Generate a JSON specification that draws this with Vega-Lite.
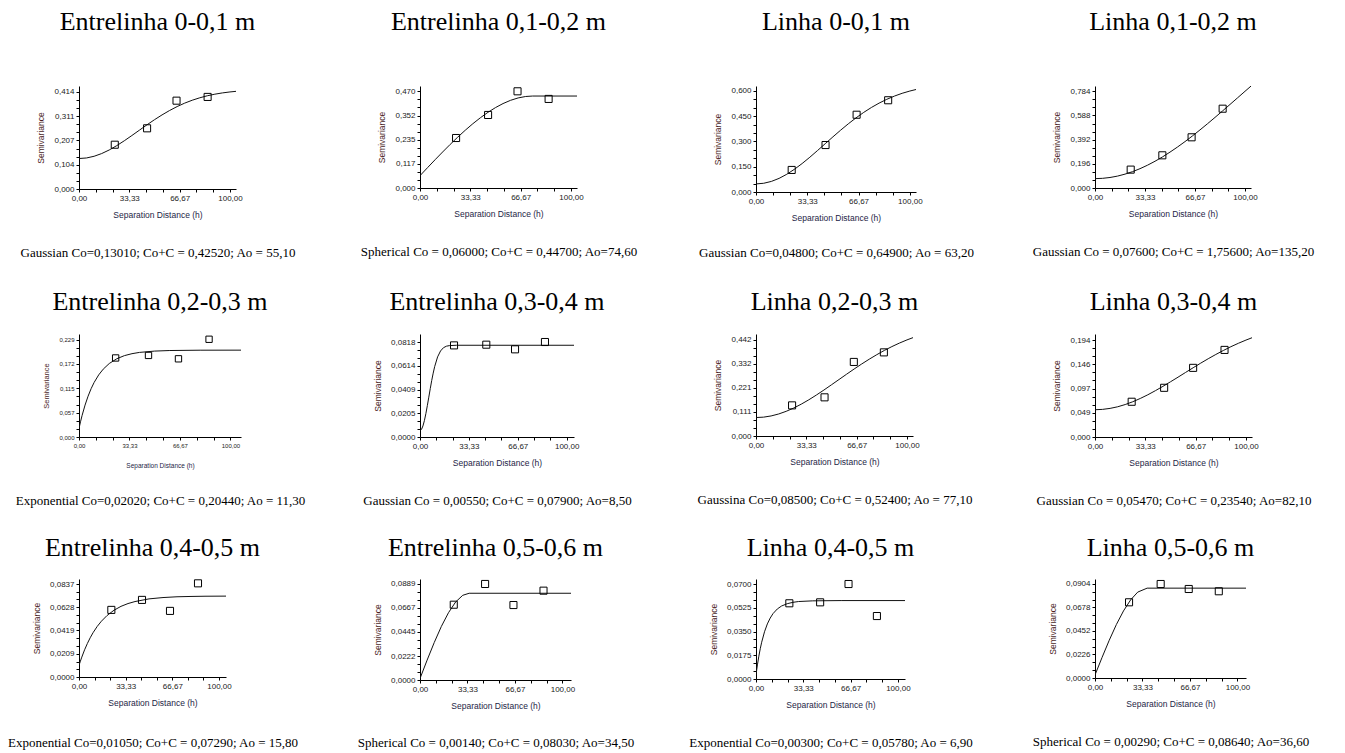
{
"$schema": "https://vega.github.io/schema/vega-lite/v6.json",
"background": "white",
"padding": {"left": 7, "top": 8, "right": 5, "bottom": 5},
"columns": 4,
"bounds": "flush",
"spacing": {"row": 142, "column": 179},
"config": {
 "view": {"stroke": null},
 "title": {"font": "Liberation Serif", "fontSize": 26, "fontWeight": "normal", "color": "#000", "anchor": "middle", "frame": "group"},
 "axis": {"grid": false, "domainColor": "#000", "tickColor": "#000", "tickSize": 3, "labelFont": "Liberation Sans", "labelFontSize": 8, "labelColor": "#222", "titleFont": "Liberation Sans", "titleFontSize": 8.5, "titleFontWeight": "normal", "labelPadding": 2, "titlePadding": 8, "labelOverlap": false, "labelFlush": false},
 "axisX": {"labelExpr": "round(datum.index*9) % 3 == 0 ? replace(format(datum.value, '.2f'), '.', ',') : ''", "titleColor": "#1e1e46"},
 "axisY": {"labelExpr": "round(datum.index*12) % 3 == 0 ? replace(datum.label, '.', ',') : ''", "titleColor": "#4a1e1e"}
},
"datasets": {
 "o1": [{"h":23.7,"g":0.189},{"h":45.1,"g":0.259},{"h":64.6,"g":0.377},{"h":85.2,"g":0.393}],
 "o2": [{"h":23.9,"g":0.243},{"h":45.1,"g":0.355},{"h":64.6,"g":0.470},{"h":85.2,"g":0.433}],
 "o3": [{"h":23.2,"g":0.131},{"h":45.2,"g":0.279},{"h":65.4,"g":0.459},{"h":85.9,"g":0.545}],
 "o4": [{"h":23.8,"g":0.149},{"h":44.9,"g":0.265},{"h":64.4,"g":0.411},{"h":85.1,"g":0.643}],
 "o5": [{"h":24.2,"g":0.186},{"h":45.9,"g":0.192},{"h":65.7,"g":0.184},{"h":85.9,"g":0.230}],
 "o6": [{"h":23.2,"g":0.0789},{"h":45.2,"g":0.0795},{"h":64.8,"g":0.0755},{"h":85.2,"g":0.0818}],
 "o7": [{"h":23.9,"g":0.141},{"h":45.4,"g":0.178},{"h":64.8,"g":0.341},{"h":84.7,"g":0.385}],
 "o8": [{"h":24.3,"g":0.0707},{"h":45.8,"g":0.0987},{"h":65.0,"g":0.1387},{"h":85.8,"g":0.1747}],
 "o9": [{"h":23.1,"g":0.0604},{"h":45.0,"g":0.0694},{"h":65.0,"g":0.0595},{"h":85.0,"g":0.0843}],
 "o10": [{"h":23.7,"g":0.0697},{"h":45.7,"g":0.0889},{"h":65.6,"g":0.0694},{"h":86.7,"g":0.0827}],
 "o11": [{"h":23.5,"g":0.0558},{"h":45.2,"g":0.0565},{"h":65.2,"g":0.0700},{"h":85.2,"g":0.0464}],
 "o12": [{"h":23.9,"g":0.0728},{"h":46.1,"g":0.0904},{"h":65.8,"g":0.0856},{"h":86.9,"g":0.0834}],
 "f1": [{"h":0,"g":0.1301},{"h":5,"g":0.1325},{"h":10,"g":0.1397},{"h":15,"g":0.1512},{"h":20,"g":0.1665},{"h":25,"g":0.1850},{"h":30,"g":0.2058},{"h":35,"g":0.2281},{"h":40,"g":0.2510},{"h":45,"g":0.2738},{"h":50,"g":0.2957},{"h":55,"g":0.3162},{"h":60,"g":0.3350},{"h":65,"g":0.3518},{"h":70,"g":0.3665},{"h":75,"g":0.3789},{"h":80,"g":0.3893},{"h":85,"g":0.3979},{"h":90,"g":0.4047},{"h":95,"g":0.4101},{"h":100,"g":0.4142},{"h":104,"g":0.4168}],
 "f2": [{"h":0,"g":0.06},{"h":5,"g":0.0989},{"h":10,"g":0.1374},{"h":15,"g":0.1751},{"h":20,"g":0.2119},{"h":25,"g":0.2473},{"h":30,"g":0.2809},{"h":35,"g":0.3124},{"h":40,"g":0.3414},{"h":45,"g":0.3677},{"h":50,"g":0.3908},{"h":55,"g":0.4104},{"h":60,"g":0.4262},{"h":65,"g":0.4378},{"h":70,"g":0.4448},{"h":74.6,"g":0.447},{"h":104,"g":0.447}],
 "f3": [{"h":0,"g":0.048},{"h":5,"g":0.0518},{"h":10,"g":0.0629},{"h":15,"g":0.0809},{"h":20,"g":0.1053},{"h":25,"g":0.1351},{"h":30,"g":0.1692},{"h":35,"g":0.2067},{"h":40,"g":0.2464},{"h":45,"g":0.2870},{"h":50,"g":0.3276},{"h":55,"g":0.3672},{"h":60,"g":0.4050},{"h":65,"g":0.4403},{"h":70,"g":0.4728},{"h":75,"g":0.5020},{"h":80,"g":0.5279},{"h":85,"g":0.5506},{"h":90,"g":0.5699},{"h":95,"g":0.5863},{"h":100,"g":0.5998},{"h":104,"g":0.6089}],
 "f4": [{"h":0,"g":0.076},{"h":5,"g":0.0783},{"h":10,"g":0.0852},{"h":15,"g":0.0965},{"h":20,"g":0.1124},{"h":25,"g":0.1325},{"h":30,"g":0.1567},{"h":35,"g":0.1849},{"h":40,"g":0.2168},{"h":45,"g":0.2522},{"h":50,"g":0.2909},{"h":55,"g":0.3322},{"h":60,"g":0.3762},{"h":65,"g":0.4226},{"h":70,"g":0.4711},{"h":75,"g":0.5210},{"h":80,"g":0.5723},{"h":85,"g":0.6245},{"h":90,"g":0.6774},{"h":95,"g":0.7307},{"h":100,"g":0.7840},{"h":104,"g":0.8263}],
 "f5": [{"h":0,"g":0.0202},{"h":1,"g":0.0358},{"h":2,"g":0.0501},{"h":4,"g":0.0751},{"h":6,"g":0.0961},{"h":8,"g":0.1137},{"h":10,"g":0.1284},{"h":13,"g":0.1461},{"h":16,"g":0.1597},{"h":20,"g":0.1730},{"h":25,"g":0.1842},{"h":30,"g":0.1915},{"h":35,"g":0.1961},{"h":40,"g":0.1991},{"h":50,"g":0.2022},{"h":60,"g":0.2035},{"h":80,"g":0.2043},{"h":107,"g":0.2044}],
 "f6": [{"h":0,"g":0.0055},{"h":1,"g":0.0065},{"h":2,"g":0.0095},{"h":3,"g":0.0141},{"h":4,"g":0.0201},{"h":5,"g":0.0270},{"h":6,"g":0.0343},{"h":7,"g":0.0417},{"h":8,"g":0.0487},{"h":9,"g":0.0550},{"h":10,"g":0.0606},{"h":12,"g":0.0690},{"h":14,"g":0.0741},{"h":16,"g":0.0769},{"h":18,"g":0.0782},{"h":20,"g":0.0787},{"h":25,"g":0.0790},{"h":105,"g":0.0790}],
 "f7": [{"h":0,"g":0.085},{"h":5,"g":0.0868},{"h":10,"g":0.0923},{"h":15,"g":0.1013},{"h":20,"g":0.1136},{"h":25,"g":0.1288},{"h":30,"g":0.1467},{"h":35,"g":0.1667},{"h":40,"g":0.1886},{"h":45,"g":0.2117},{"h":50,"g":0.2358},{"h":55,"g":0.2601},{"h":60,"g":0.2844},{"h":65,"g":0.3084},{"h":70,"g":0.3315},{"h":75,"g":0.3536},{"h":80,"g":0.3744},{"h":85,"g":0.3938},{"h":90,"g":0.4116},{"h":95,"g":0.4278},{"h":100,"g":0.4424},{"h":104,"g":0.4528}],
 "f8": [{"h":0,"g":0.0547},{"h":5,"g":0.0554},{"h":10,"g":0.0574},{"h":15,"g":0.0606},{"h":20,"g":0.0651},{"h":25,"g":0.0707},{"h":30,"g":0.0773},{"h":35,"g":0.0847},{"h":40,"g":0.0929},{"h":45,"g":0.1016},{"h":50,"g":0.1107},{"h":55,"g":0.1200},{"h":60,"g":0.1295},{"h":65,"g":0.1389},{"h":70,"g":0.1481},{"h":75,"g":0.1570},{"h":80,"g":0.1655},{"h":85,"g":0.1735},{"h":90,"g":0.1811},{"h":95,"g":0.1880},{"h":100,"g":0.1944},{"h":104,"g":0.1991}],
 "f9": [{"h":0,"g":0.0105},{"h":1,"g":0.0143},{"h":2,"g":0.0179},{"h":4,"g":0.0245},{"h":6,"g":0.0302},{"h":8,"g":0.0353},{"h":10,"g":0.0398},{"h":13,"g":0.0455},{"h":16,"g":0.0502},{"h":20,"g":0.0553},{"h":25,"g":0.0601},{"h":30,"g":0.0636},{"h":35,"g":0.0661},{"h":40,"g":0.0679},{"h":50,"g":0.0703},{"h":60,"g":0.0715},{"h":70,"g":0.0722},{"h":80,"g":0.0725},{"h":90,"g":0.0727},{"h":105,"g":0.0728}],
 "f10": [{"h":0,"g":0.0014},{"h":5,"g":0.0184},{"h":10,"g":0.0347},{"h":15,"g":0.0496},{"h":20,"g":0.0623},{"h":25,"g":0.0722},{"h":30,"g":0.0784},{"h":34.5,"g":0.0803},{"h":106,"g":0.0803}],
 "f11": [{"h":0,"g":0.003},{"h":0.5,"g":0.0068},{"h":1,"g":0.0104},{"h":2,"g":0.0168},{"h":3,"g":0.0223},{"h":4,"g":0.0271},{"h":6,"g":0.0348},{"h":8,"g":0.0406},{"h":10,"g":0.0449},{"h":12,"g":0.0482},{"h":15,"g":0.0516},{"h":18,"g":0.0538},{"h":22,"g":0.0555},{"h":26,"g":0.0565},{"h":30,"g":0.0571},{"h":40,"g":0.0576},{"h":60,"g":0.0578},{"h":105,"g":0.0578}],
 "f12": [{"h":0,"g":0.0029},{"h":5,"g":0.0199},{"h":10,"g":0.0363},{"h":15,"g":0.0514},{"h":20,"g":0.0645},{"h":25,"g":0.0751},{"h":30,"g":0.0826},{"h":36.6,"g":0.0864},{"h":106,"g":0.0864}]
},
"concat": [
 {"width":157,"height":103,"title":{"text":"Entrelinha 0-0,1 m","offset":51},"resolve":{"axis":{"x":"independent"}},
  "layer":[
   {"data":{"name":"f1"},"mark":{"type":"line","color":"#111","strokeWidth":1,"clip":true},
    "encoding":{"x":{"field":"h","type":"quantitative","scale":{"domain":[0,104],"nice":false},"axis":{"orient":"bottom","labels":false,"ticks":false,"domain":false,"title":"Gaussian Co=0,13010; Co+C = 0,42520; Ao = 55,10","titleFont":"Liberation Serif","titleFontSize":13,"titleColor":"#000","titlePadding":57}},
     "y":{"field":"g","type":"quantitative","scale":{"domain":[0,0.4396],"nice":false},"axis":{"title":"Semivariance","format":".3f","values":[0,0.03467,0.06933,0.104,0.13833,0.17267,0.207,0.24167,0.27633,0.311,0.34533,0.37967,0.414]}}}},
   {"data":{"name":"o1"},"mark":{"type":"point","shape":"square","filled":false,"color":"#000","strokeWidth":1,"size":50,"opacity":1},
    "encoding":{"x":{"field":"h","type":"quantitative","scale":{"domain":[0,104],"nice":false},"axis":{"orient":"bottom","title":"Separation Distance (h)","values":[0,11.11,22.22,33.33,44.44,55.56,66.67,77.78,88.89,100]}},
     "y":{"field":"g","type":"quantitative","scale":{"domain":[0,0.4396],"nice":false},"axis":{"title":"Semivariance","format":".3f","values":[0,0.03467,0.06933,0.104,0.13833,0.17267,0.207,0.24167,0.27633,0.311,0.34533,0.37967,0.414]}}}}
  ]},
 {"width":157,"height":102,"title":{"text":"Entrelinha 0,1-0,2 m","offset":51},"resolve":{"axis":{"x":"independent"}},
  "layer":[
   {"data":{"name":"f2"},"mark":{"type":"line","color":"#111","strokeWidth":1,"clip":true},
    "encoding":{"x":{"field":"h","type":"quantitative","scale":{"domain":[0,104],"nice":false},"axis":{"orient":"bottom","labels":false,"ticks":false,"domain":false,"title":"Spherical Co = 0,06000; Co+C = 0,44700; Ao=74,60","titleFont":"Liberation Serif","titleFontSize":13,"titleColor":"#000","titlePadding":57}},
     "y":{"field":"g","type":"quantitative","scale":{"domain":[0,0.4958],"nice":false},"axis":{"title":"Semivariance","format":".3f","values":[0,0.039,0.078,0.117,0.15633,0.19567,0.235,0.274,0.313,0.352,0.39133,0.43067,0.47]}}}},
   {"data":{"name":"o2"},"mark":{"type":"point","shape":"square","filled":false,"color":"#000","strokeWidth":1,"size":50,"opacity":1},
    "encoding":{"x":{"field":"h","type":"quantitative","scale":{"domain":[0,104],"nice":false},"axis":{"orient":"bottom","title":"Separation Distance (h)","values":[0,11.11,22.22,33.33,44.44,55.56,66.67,77.78,88.89,100]}},
     "y":{"field":"g","type":"quantitative","scale":{"domain":[0,0.4958],"nice":false},"axis":{"title":"Semivariance","format":".3f","values":[0,0.039,0.078,0.117,0.15633,0.19567,0.235,0.274,0.313,0.352,0.39133,0.43067,0.47]}}}}
  ]},
 {"width":160,"height":106,"title":{"text":"Linha 0-0,1 m","offset":51},"resolve":{"axis":{"x":"independent"}},
  "layer":[
   {"data":{"name":"f3"},"mark":{"type":"line","color":"#111","strokeWidth":1,"clip":true},
    "encoding":{"x":{"field":"h","type":"quantitative","scale":{"domain":[0,104],"nice":false},"axis":{"orient":"bottom","labels":false,"ticks":false,"domain":false,"title":"Gaussian Co=0,04800; Co+C = 0,64900; Ao = 63,20","titleFont":"Liberation Serif","titleFontSize":13,"titleColor":"#000","titlePadding":54}},
     "y":{"field":"g","type":"quantitative","scale":{"domain":[0,0.6297],"nice":false},"axis":{"title":"Semivariance","format":".3f","values":[0,0.05,0.1,0.15,0.2,0.25,0.3,0.35,0.4,0.45,0.5,0.55,0.6]}}}},
   {"data":{"name":"o3"},"mark":{"type":"point","shape":"square","filled":false,"color":"#000","strokeWidth":1,"size":50,"opacity":1},
    "encoding":{"x":{"field":"h","type":"quantitative","scale":{"domain":[0,104],"nice":false},"axis":{"orient":"bottom","title":"Separation Distance (h)","values":[0,11.11,22.22,33.33,44.44,55.56,66.67,77.78,88.89,100]}},
     "y":{"field":"g","type":"quantitative","scale":{"domain":[0,0.6297],"nice":false},"axis":{"title":"Semivariance","format":".3f","values":[0,0.05,0.1,0.15,0.2,0.25,0.3,0.35,0.4,0.45,0.5,0.55,0.6]}}}}
  ]},
 {"width":156,"height":102,"title":{"text":"Linha 0,1-0,2 m","offset":51},"resolve":{"axis":{"x":"independent"}},
  "layer":[
   {"data":{"name":"f4"},"mark":{"type":"line","color":"#111","strokeWidth":1,"clip":true},
    "encoding":{"x":{"field":"h","type":"quantitative","scale":{"domain":[0,104],"nice":false},"axis":{"orient":"bottom","labels":false,"ticks":false,"domain":false,"title":"Gaussian Co = 0,07600; Co+C = 1,75600; Ao=135,20","titleFont":"Liberation Serif","titleFontSize":13,"titleColor":"#000","titlePadding":57}},
     "y":{"field":"g","type":"quantitative","scale":{"domain":[0,0.827],"nice":false},"axis":{"title":"Semivariance","format":".3f","values":[0,0.06533,0.13067,0.196,0.26133,0.32667,0.392,0.45733,0.52267,0.588,0.65333,0.71867,0.784]}}}},
   {"data":{"name":"o4"},"mark":{"type":"point","shape":"square","filled":false,"color":"#000","strokeWidth":1,"size":50,"opacity":1},
    "encoding":{"x":{"field":"h","type":"quantitative","scale":{"domain":[0,104],"nice":false},"axis":{"orient":"bottom","title":"Separation Distance (h)","values":[0,11.11,22.22,33.33,44.44,55.56,66.67,77.78,88.89,100]}},
     "y":{"field":"g","type":"quantitative","scale":{"domain":[0,0.827],"nice":false},"axis":{"title":"Semivariance","format":".3f","values":[0,0.06533,0.13067,0.196,0.26133,0.32667,0.392,0.45733,0.52267,0.588,0.65333,0.71867,0.784]}}}}
  ]},
 {"width":162,"height":103,"title":{"text":"Entrelinha 0,2-0,3 m","offset":19},"resolve":{"axis":{"x":"independent"}},
  "layer":[
   {"data":{"name":"f5"},"mark":{"type":"line","color":"#111","strokeWidth":1,"clip":true},
    "encoding":{"x":{"field":"h","type":"quantitative","scale":{"domain":[0,107],"nice":false},"axis":{"orient":"bottom","labels":false,"ticks":false,"domain":false,"title":"Exponential Co=0,02020; Co+C = 0,20440; Ao = 11,30","titleFont":"Liberation Serif","titleFontSize":13,"titleColor":"#000","titlePadding":57}},
     "y":{"field":"g","type":"quantitative","scale":{"domain":[0,0.2424],"nice":false},"axis":{"title":"Semivariance","format":".3f","labelFont":"Liberation Sans Narrow, Liberation Sans","labelFontSize":6,"titleFont":"Liberation Sans Narrow, Liberation Sans","titleFontSize":7.5,"values":[0,0.019,0.038,0.057,0.07633,0.09567,0.115,0.134,0.153,0.172,0.191,0.21,0.229]}}}},
   {"data":{"name":"o5"},"mark":{"type":"point","shape":"square","filled":false,"color":"#000","strokeWidth":1,"size":40,"opacity":1},
    "encoding":{"x":{"field":"h","type":"quantitative","scale":{"domain":[0,107],"nice":false},"axis":{"orient":"bottom","title":"Separation Distance (h)","labelFont":"Liberation Sans Narrow, Liberation Sans","labelFontSize":6,"titleFont":"Liberation Sans Narrow, Liberation Sans","titleFontSize":6.5,"titlePadding":14,"values":[0,11.11,22.22,33.33,44.44,55.56,66.67,77.78,88.89,100]}},
     "y":{"field":"g","type":"quantitative","scale":{"domain":[0,0.2424],"nice":false},"axis":{"title":"Semivariance","format":".3f","labelFont":"Liberation Sans Narrow, Liberation Sans","labelFontSize":6,"titleFont":"Liberation Sans Narrow, Liberation Sans","titleFontSize":7.5,"values":[0,0.019,0.038,0.057,0.07633,0.09567,0.115,0.134,0.153,0.172,0.191,0.21,0.229]}}}}
  ]},
 {"width":154,"height":103,"title":{"text":"Entrelinha 0,3-0,4 m","offset":19},"resolve":{"axis":{"x":"independent"}},
  "layer":[
   {"data":{"name":"f6"},"mark":{"type":"line","color":"#111","strokeWidth":1,"clip":true},
    "encoding":{"x":{"field":"h","type":"quantitative","scale":{"domain":[0,105],"nice":false},"axis":{"orient":"bottom","labels":false,"ticks":false,"domain":false,"title":"Gaussian Co = 0,00550; Co+C = 0,07900; Ao=8,50","titleFont":"Liberation Serif","titleFontSize":13,"titleColor":"#000","titlePadding":57}},
     "y":{"field":"g","type":"quantitative","scale":{"domain":[0,0.0887],"nice":false},"axis":{"title":"Semivariance","format":".4f","values":[0,0.00683,0.01367,0.0205,0.0273,0.0341,0.0409,0.04773,0.05457,0.0614,0.0682,0.075,0.0818]}}}},
   {"data":{"name":"o6"},"mark":{"type":"point","shape":"square","filled":false,"color":"#000","strokeWidth":1,"size":50,"opacity":1},
    "encoding":{"x":{"field":"h","type":"quantitative","scale":{"domain":[0,105],"nice":false},"axis":{"orient":"bottom","title":"Separation Distance (h)","values":[0,11.11,22.22,33.33,44.44,55.56,66.67,77.78,88.89,100]}},
     "y":{"field":"g","type":"quantitative","scale":{"domain":[0,0.0887],"nice":false},"axis":{"title":"Semivariance","format":".4f","values":[0,0.00683,0.01367,0.0205,0.0273,0.0341,0.0409,0.04773,0.05457,0.0614,0.0682,0.075,0.0818]}}}}
  ]},
 {"width":157,"height":102,"title":{"text":"Linha 0,2-0,3 m","offset":19},"resolve":{"axis":{"x":"independent"}},
  "layer":[
   {"data":{"name":"f7"},"mark":{"type":"line","color":"#111","strokeWidth":1,"clip":true},
    "encoding":{"x":{"field":"h","type":"quantitative","scale":{"domain":[0,104],"nice":false},"axis":{"orient":"bottom","labels":false,"ticks":false,"domain":false,"title":"Gaussina Co=0,08500; Co+C = 0,52400; Ao = 77,10","titleFont":"Liberation Serif","titleFontSize":13,"titleColor":"#000","titlePadding":57}},
     "y":{"field":"g","type":"quantitative","scale":{"domain":[0,0.4696],"nice":false},"axis":{"title":"Semivariance","format":".3f","values":[0,0.037,0.074,0.111,0.14767,0.18433,0.221,0.258,0.295,0.332,0.36867,0.40533,0.442]}}}},
   {"data":{"name":"o7"},"mark":{"type":"point","shape":"square","filled":false,"color":"#000","strokeWidth":1,"size":50,"opacity":1},
    "encoding":{"x":{"field":"h","type":"quantitative","scale":{"domain":[0,104],"nice":false},"axis":{"orient":"bottom","title":"Separation Distance (h)","values":[0,11.11,22.22,33.33,44.44,55.56,66.67,77.78,88.89,100]}},
     "y":{"field":"g","type":"quantitative","scale":{"domain":[0,0.4696],"nice":false},"axis":{"title":"Semivariance","format":".3f","values":[0,0.037,0.074,0.111,0.14767,0.18433,0.221,0.258,0.295,0.332,0.36867,0.40533,0.442]}}}}
  ]},
 {"width":157,"height":103,"title":{"text":"Linha 0,3-0,4 m","offset":19},"resolve":{"axis":{"x":"independent"}},
  "layer":[
   {"data":{"name":"f8"},"mark":{"type":"line","color":"#111","strokeWidth":1,"clip":true},
    "encoding":{"x":{"field":"h","type":"quantitative","scale":{"domain":[0,104],"nice":false},"axis":{"orient":"bottom","labels":false,"ticks":false,"domain":false,"title":"Gaussian Co = 0,05470; Co+C = 0,23540; Ao=82,10","titleFont":"Liberation Serif","titleFontSize":13,"titleColor":"#000","titlePadding":57}},
     "y":{"field":"g","type":"quantitative","scale":{"domain":[0,0.2066],"nice":false},"axis":{"title":"Semivariance","format":".3f","values":[0,0.01633,0.03267,0.049,0.065,0.081,0.097,0.11333,0.12967,0.146,0.162,0.178,0.194]}}}},
   {"data":{"name":"o8"},"mark":{"type":"point","shape":"square","filled":false,"color":"#000","strokeWidth":1,"size":50,"opacity":1},
    "encoding":{"x":{"field":"h","type":"quantitative","scale":{"domain":[0,104],"nice":false},"axis":{"orient":"bottom","title":"Separation Distance (h)","values":[0,11.11,22.22,33.33,44.44,55.56,66.67,77.78,88.89,100]}},
     "y":{"field":"g","type":"quantitative","scale":{"domain":[0,0.2066],"nice":false},"axis":{"title":"Semivariance","format":".3f","values":[0,0.01633,0.03267,0.049,0.065,0.081,0.097,0.11333,0.12967,0.146,0.162,0.178,0.194]}}}}
  ]},
 {"width":147,"height":98,"title":{"text":"Entrelinha 0,4-0,5 m","offset":17},"resolve":{"axis":{"x":"independent"}},
  "layer":[
   {"data":{"name":"f9"},"mark":{"type":"line","color":"#111","strokeWidth":1,"clip":true},
    "encoding":{"x":{"field":"h","type":"quantitative","scale":{"domain":[0,105],"nice":false},"axis":{"orient":"bottom","labels":false,"ticks":false,"domain":false,"title":"Exponential Co=0,01050; Co+C = 0,07290; Ao = 15,80","titleFont":"Liberation Serif","titleFontSize":13,"titleColor":"#000","titlePadding":59}},
     "y":{"field":"g","type":"quantitative","scale":{"domain":[0,0.0882],"nice":false},"axis":{"title":"Semivariance","format":".4f","values":[0,0.00697,0.01393,0.0209,0.0279,0.0349,0.0419,0.04887,0.05583,0.0628,0.06977,0.07673,0.0837]}}}},
   {"data":{"name":"o9"},"mark":{"type":"point","shape":"square","filled":false,"color":"#000","strokeWidth":1,"size":50,"opacity":1},
    "encoding":{"x":{"field":"h","type":"quantitative","scale":{"domain":[0,105],"nice":false},"axis":{"orient":"bottom","title":"Separation Distance (h)","values":[0,11.11,22.22,33.33,44.44,55.56,66.67,77.78,88.89,100]}},
     "y":{"field":"g","type":"quantitative","scale":{"domain":[0,0.0882],"nice":false},"axis":{"title":"Semivariance","format":".4f","values":[0,0.00697,0.01393,0.0209,0.0279,0.0349,0.0419,0.04887,0.05583,0.0628,0.06977,0.07673,0.0837]}}}}
  ]},
 {"width":151,"height":101,"title":{"text":"Entrelinha 0,5-0,6 m","offset":17},"resolve":{"axis":{"x":"independent"}},
  "layer":[
   {"data":{"name":"f10"},"mark":{"type":"line","color":"#111","strokeWidth":1,"clip":true},
    "encoding":{"x":{"field":"h","type":"quantitative","scale":{"domain":[0,106],"nice":false},"axis":{"orient":"bottom","labels":false,"ticks":false,"domain":false,"title":"Spherical Co = 0,00140; Co+C = 0,08030; Ao=34,50","titleFont":"Liberation Serif","titleFontSize":13,"titleColor":"#000","titlePadding":56}},
     "y":{"field":"g","type":"quantitative","scale":{"domain":[0,0.0935],"nice":false},"axis":{"title":"Semivariance","format":".4f","values":[0,0.0074,0.0148,0.0222,0.02963,0.03707,0.0445,0.0519,0.0593,0.0667,0.0741,0.0815,0.0889]}}}},
   {"data":{"name":"o10"},"mark":{"type":"point","shape":"square","filled":false,"color":"#000","strokeWidth":1,"size":50,"opacity":1},
    "encoding":{"x":{"field":"h","type":"quantitative","scale":{"domain":[0,106],"nice":false},"axis":{"orient":"bottom","title":"Separation Distance (h)","values":[0,11.11,22.22,33.33,44.44,55.56,66.67,77.78,88.89,100]}},
     "y":{"field":"g","type":"quantitative","scale":{"domain":[0,0.0935],"nice":false},"axis":{"title":"Semivariance","format":".4f","values":[0,0.0074,0.0148,0.0222,0.02963,0.03707,0.0445,0.0519,0.0593,0.0667,0.0741,0.0815,0.0889]}}}}
  ]},
 {"width":149,"height":100,"title":{"text":"Linha 0,4-0,5 m","offset":17},"resolve":{"axis":{"x":"independent"}},
  "layer":[
   {"data":{"name":"f11"},"mark":{"type":"line","color":"#111","strokeWidth":1,"clip":true},
    "encoding":{"x":{"field":"h","type":"quantitative","scale":{"domain":[0,105],"nice":false},"axis":{"orient":"bottom","labels":false,"ticks":false,"domain":false,"title":"Exponential Co=0,00300; Co+C = 0,05780; Ao = 6,90","titleFont":"Liberation Serif","titleFontSize":13,"titleColor":"#000","titlePadding":57}},
     "y":{"field":"g","type":"quantitative","scale":{"domain":[0,0.0737],"nice":false},"axis":{"title":"Semivariance","format":".4f","values":[0,0.00583,0.01167,0.0175,0.02333,0.02917,0.035,0.04083,0.04667,0.0525,0.05833,0.06417,0.07]}}}},
   {"data":{"name":"o11"},"mark":{"type":"point","shape":"square","filled":false,"color":"#000","strokeWidth":1,"size":50,"opacity":1},
    "encoding":{"x":{"field":"h","type":"quantitative","scale":{"domain":[0,105],"nice":false},"axis":{"orient":"bottom","title":"Separation Distance (h)","values":[0,11.11,22.22,33.33,44.44,55.56,66.67,77.78,88.89,100]}},
     "y":{"field":"g","type":"quantitative","scale":{"domain":[0,0.0737],"nice":false},"axis":{"title":"Semivariance","format":".4f","values":[0,0.00583,0.01167,0.0175,0.02333,0.02917,0.035,0.04083,0.04667,0.0525,0.05833,0.06417,0.07]}}}}
  ]},
 {"width":151,"height":99,"title":{"text":"Linha 0,5-0,6 m","offset":17},"resolve":{"axis":{"x":"independent"}},
  "layer":[
   {"data":{"name":"f12"},"mark":{"type":"line","color":"#111","strokeWidth":1,"clip":true},
    "encoding":{"x":{"field":"h","type":"quantitative","scale":{"domain":[0,106],"nice":false},"axis":{"orient":"bottom","labels":false,"ticks":false,"domain":false,"title":"Spherical Co = 0,00290; Co+C = 0,08640; Ao=36,60","titleFont":"Liberation Serif","titleFontSize":13,"titleColor":"#000","titlePadding":57}},
     "y":{"field":"g","type":"quantitative","scale":{"domain":[0,0.0952],"nice":false},"axis":{"title":"Semivariance","format":".4f","values":[0,0.00753,0.01507,0.0226,0.03013,0.03767,0.0452,0.05273,0.06027,0.0678,0.07533,0.08287,0.0904]}}}},
   {"data":{"name":"o12"},"mark":{"type":"point","shape":"square","filled":false,"color":"#000","strokeWidth":1,"size":50,"opacity":1},
    "encoding":{"x":{"field":"h","type":"quantitative","scale":{"domain":[0,106],"nice":false},"axis":{"orient":"bottom","title":"Separation Distance (h)","values":[0,11.11,22.22,33.33,44.44,55.56,66.67,77.78,88.89,100]}},
     "y":{"field":"g","type":"quantitative","scale":{"domain":[0,0.0952],"nice":false},"axis":{"title":"Semivariance","format":".4f","values":[0,0.00753,0.01507,0.0226,0.03013,0.03767,0.0452,0.05273,0.06027,0.0678,0.07533,0.08287,0.0904]}}}}
  ]}
]
}
